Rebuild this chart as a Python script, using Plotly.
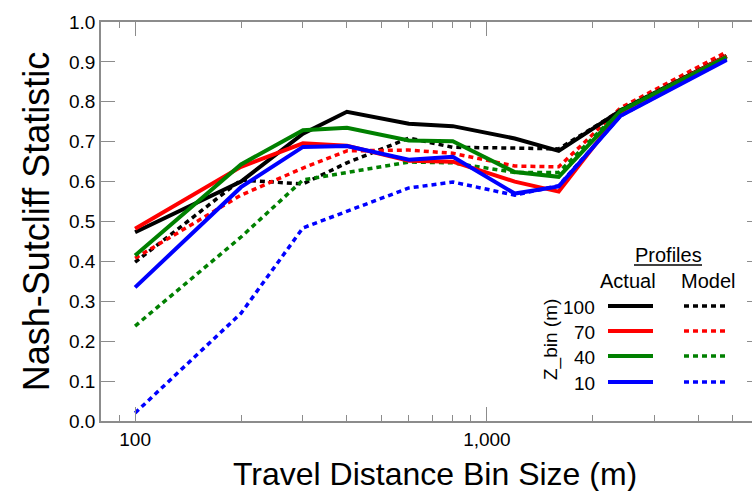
import plotly.graph_objects as go

# Data
bin_size = [100, 200, 300, 400, 600, 800, 1200, 1600, 2400, 4800]
z_bins = ["100", "70", "40", "10"]
actual_100 = [0.473, 0.600, 0.720, 0.775, 0.745, 0.739, 0.708, 0.677, 0.778, 0.915]
actual_70 = [0.482, 0.637, 0.696, 0.690, 0.652, 0.650, 0.600, 0.575, 0.775, 0.915]
actual_40 = [0.415, 0.643, 0.729, 0.735, 0.703, 0.701, 0.624, 0.612, 0.777, 0.912]
actual_10 = [0.335, 0.586, 0.687, 0.689, 0.655, 0.662, 0.570, 0.588, 0.765, 0.905]
model_100 = [0.398, 0.604, 0.594, 0.647, 0.709, 0.686, 0.684, 0.682, 0.778, 0.918]
model_70 = [0.408, 0.566, 0.634, 0.677, 0.679, 0.671, 0.639, 0.637, 0.785, 0.925]
model_40 = [0.238, 0.461, 0.604, 0.622, 0.649, 0.647, 0.623, 0.623, 0.780, 0.915]
model_10 = [0.020, 0.270, 0.484, 0.525, 0.584, 0.599, 0.566, 0.590, 0.765, 0.907]
colors = ["#000000", "#ff0000", "#008000", "#0000ff"]
actual = [actual_100, actual_70, actual_40, actual_10]
model = [model_100, model_70, model_40, model_10]

x_ticks = [100, 1000]
x_ticktext = ["100", "1,000"]
x_minor = [90, 200, 300, 400, 500, 600, 700, 800, 900, 2000, 3000, 4000, 5000]
y_ticks = [round(i * 0.1, 1) for i in range(11)]

FONT = "Arial, Liberation Sans, sans-serif"
AX = "#8c8c8c"
DASH = "5px,4px"

fig = go.Figure()
for ys, c, z in zip(model, colors, z_bins):
    fig.add_trace(go.Scatter(x=bin_size, y=ys, mode="lines", name=f"Model {z}",
                             line=dict(color=c, width=3.5, dash=DASH), showlegend=False))
for ys, c, z in zip(actual, colors, z_bins):
    fig.add_trace(go.Scatter(x=bin_size, y=ys, mode="lines", name=f"Actual {z}",
                             line=dict(color=c, width=4), showlegend=False))

# right-side ticks (short, inward)
fig.add_trace(go.Scatter(x=[None], y=[None], yaxis="y2", showlegend=False))

L, R, T, B = 101, 0, 22, 70
W, H = 752, 491
pw = W - L - R
ph = H - T - B

def px(xp):
    return (xp - L) / pw

def py(yp):
    return (H - B - yp) / ph

fig.update_layout(
    width=W, height=H,
    margin=dict(l=L, r=R, t=T, b=B, autoexpand=False),
    paper_bgcolor="white", plot_bgcolor="white",
    font=dict(family=FONT, color="black"),
    xaxis=dict(
        type="log", range=[1.90309, 3.7535], automargin=False,
        tickmode="array", tickvals=x_ticks, ticktext=x_ticktext,
        ticks="inside", ticklen=14, tickwidth=1.3, tickcolor=AX,
        minor=dict(tickmode="array", tickvals=x_minor, ticks="inside", ticklen=6,
                   tickwidth=1.3, tickcolor=AX, showgrid=False),
        showline=True, linecolor=AX, linewidth=1.5, mirror="ticks",
        showgrid=False, zeroline=False,
        tickfont=dict(size=19, family=FONT),
    ),
    yaxis=dict(
        range=[0, 1.0], tickmode="array", tickvals=y_ticks, automargin=False,
        ticktext=[f"{v:.1f}" for v in y_ticks],
        ticks="inside", ticklen=14, tickwidth=1.3, tickcolor=AX,
        showline=True, linecolor=AX, linewidth=1.5,
        showgrid=False, zeroline=False,
        tickfont=dict(size=19, family=FONT),
        title=dict(text="Nash-Sutcliff Statistic", font=dict(size=36, family=FONT), standoff=8),
    ),
    yaxis2=dict(
        range=[0, 1.0], overlaying="y", side="right", tickmode="array", tickvals=y_ticks,
        ticks="inside", ticklen=5, tickwidth=1.3, tickcolor=AX, showticklabels=False,
        showline=False, showgrid=False, zeroline=False, automargin=False,
    ),
)

def label(x, y, text, size, **kw):
    d = dict(x=px(x), y=py(y), text=text, showarrow=False, xref="paper", yref="paper",
             xanchor="center", yanchor="middle", font=dict(size=size, family=FONT, color="black"))
    d.update(kw)
    return d

# X axis title
ann = [label(435, 474, "Travel Distance Bin Size (m)", 32)]

# Legend table
LF = 19
shapes = []
ann.append(label(668, 255, "Profiles", LF + 1))
shapes.append(dict(type="line", xref="paper", yref="paper", x0=px(634), x1=px(702),
                   y0=py(265), y1=py(265), line=dict(color="black", width=1.3)))
ann.append(label(628, 281, "Actual", LF + 1))
ann.append(label(708, 281, "Model", LF + 1))
ann.append(label(551, 340, "Z_bin (m)", LF, textangle=-90))
row_y = [306, 331, 356, 382]
for z, c, yy in zip(z_bins, colors, row_y):
    ann.append(label(597, yy + 1, z, LF, xanchor="right"))
    shapes.append(dict(type="line", xref="paper", yref="paper", x0=px(608), x1=px(653),
                       y0=py(yy), y1=py(yy), line=dict(color=c, width=4)))
    shapes.append(dict(type="line", xref="paper", yref="paper", x0=px(684), x1=px(729),
                       y0=py(yy), y1=py(yy), line=dict(color=c, width=3.5, dash=DASH)))
fig.update_layout(annotations=ann, shapes=shapes)

fig.write_html("out.html", config={"displayModeBar": False},
               post_script="document.body.style.margin='0';document.body.style.overflow='hidden';")
